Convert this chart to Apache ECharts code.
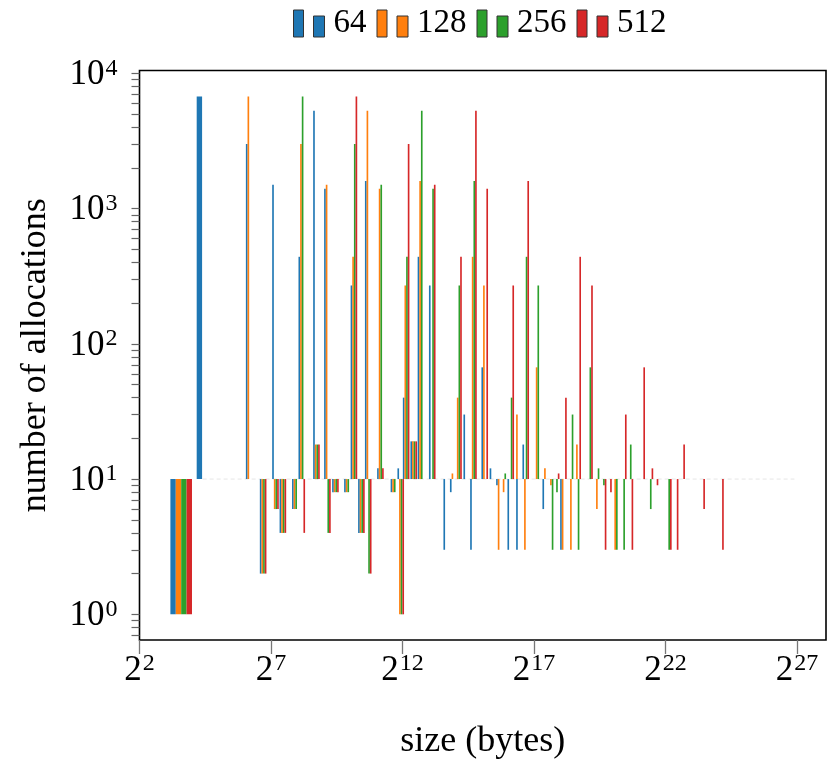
<!DOCTYPE html>
<html>
<head>
<meta charset="utf-8">
<script src="https://cdn.jsdelivr.net/npm/echarts@6.0.0/dist/echarts.min.js"></script>
<style>
  html, body { margin: 0; padding: 0; background: #fff; }
  #chart { width: 830px; height: 768px; }
</style>
</head>
<body>
<div id="chart"></div>
<script>
  // sizes in bytes, counts = number of allocations (bars hang from 10)
  const seriesNames = ['64', '128', '256', '512']
  const seriesColors = ['#1f77b4', '#ff7f0e', '#2ca02c', '#d62728']

  const sizes64 = [12, 24, 72, 104, 144, 175, 243, 288, 424, 566, 699, 959, 1138, 1386, 1659, 2288, 3265, 3907, 4505, 5503, 6654, 8963, 13132, 15587, 22245, 26550, 35740, 44370, 52650, 70950, 89200, 105300, 178400, 284500]
  const counts64 = [1, 6730, 3000, 2, 1500, 4, 6, 440, 5300, 1400, 8, 8, 270, 4, 1600, 12, 8, 12, 40, 19, 440, 270, 3, 8, 30, 3, 67, 12, 9, 3, 3, 18, 6, 3]

  const sizes128 = [12, 72, 104, 144, 175, 243, 288, 424, 566, 699, 959, 1138, 1386, 1659, 2288, 3265, 3907, 4505, 5503, 6654, 15587, 17910, 26550, 35740, 52650, 60050, 85300, 105300, 143400, 178400, 209000, 284500, 353800, 414500, 701700, 1137000]
  const counts128 = [1, 6730, 2, 6, 4, 6, 3000, 18, 1500, 8, 8, 440, 4, 5300, 1400, 8, 1, 270, 19, 1600, 11, 40, 440, 270, 3, 8, 30, 3, 67, 12, 9, 3, 3, 18, 6, 3]

  const sizes256 = [12, 104, 144, 175, 243, 288, 424, 566, 699, 959, 1138, 1386, 1659, 2288, 3265, 3907, 4505, 5503, 6654, 8963, 17910, 26550, 60050, 70950, 105300, 143400, 209000, 234700, 353800, 414500, 565500, 701700, 808900, 1137000, 1378000, 1640000, 2779000, 4516000]
  const counts256 = [1, 2, 6, 4, 6, 6730, 18, 4, 8, 8, 3000, 4, 2, 1500, 8, 1, 440, 19, 5300, 1400, 270, 1600, 11, 40, 440, 270, 3, 8, 30, 3, 67, 12, 9, 3, 3, 18, 6, 3]

  const sizes512 = [12, 104, 144, 175, 288, 424, 566, 699, 1138, 1386, 1659, 2288, 3907, 4505, 5503, 8963, 17910, 26550, 35740, 70950, 105300, 234700, 284500, 414500, 565500, 808900, 932000, 1378000, 1640000, 2238000, 2779000, 3178000, 4516000, 5400000, 6410000, 10860000, 17830000]
  const counts512 = [1, 2, 6, 4, 4, 18, 4, 8, 6730, 4, 2, 12, 1, 3000, 19, 1500, 440, 5300, 1400, 270, 1600, 11, 40, 440, 270, 3, 8, 30, 3, 67, 12, 9, 3, 3, 18, 6, 3]

  const xTickExps = [2, 7, 12, 17, 22, 27]
  const yTickExps = [0, 1, 2, 3, 4]
  const yMinorTicks = [0.7, 0.8, 0.9, 2, 3, 4, 5, 6, 7, 8, 9, 20, 30, 40, 50, 60, 70, 80, 90,
    200, 300, 400, 500, 600, 700, 800, 900, 2000, 3000, 4000, 5000, 6000, 7000, 8000, 9000]

  const allSizes = [sizes64, sizes128, sizes256, sizes512]
  const allCounts = [counts64, counts128, counts256, counts512]

  const FONT = 'Liberation Serif'
  const rich = {
    b: { fontFamily: FONT, fontSize: 35, color: '#000', lineHeight: 38, verticalAlign: 'bottom' },
    s: { fontFamily: FONT, fontSize: 24, color: '#000', lineHeight: 24, padding: [0, 0, 12, 1], verticalAlign: 'bottom' }
  }

  const chart = echarts.init(document.getElementById('chart'))

  // bars of one size sit side by side, one slot per series
  const makeRender = (slot) => (params, api) => {
    const lx = api.value(0)
    const ly = api.value(1)
    const base = api.coord([lx, 1])
    const top = api.coord([lx, ly])
    const w = lx < 5 ? 5.4 : 1.65
    const cx = base[0] + (slot - 1.5) * w
    return {
      type: 'rect',
      shape: { x: cx - w / 2, y: Math.min(base[1], top[1]), width: w, height: Math.abs(top[1] - base[1]) },
      style: { fill: api.visual('color') }
    }
  }

  const barSeries = seriesNames.map((name, i) => ({
    name,
    type: 'custom',
    renderItem: makeRender(i),
    itemStyle: { color: seriesColors[i] },
    encode: { x: 0, y: 1 },
    data: allSizes[i].map((s, k) => [Math.log2(s), Math.log10(allCounts[i][k])]),
    z: 3
  }))

  const option = {
    animation: false,
    grid: { left: 139.5, right: 4, top: 70.5, bottom: 128, show: true, borderColor: '#000', borderWidth: 1.6 },
    legend: {
      left: 288,
      top: 2,
      itemWidth: 31,
      itemHeight: 27,
      itemGap: 10,
      icon: 'path://M0,0H10V27H0Z M20,6H31V27H20Z',
      itemStyle: { borderColor: '#333', borderWidth: 1 },
      textStyle: { fontFamily: FONT, fontSize: 33, color: '#000', padding: [0, 0, 0, 4] },
      data: seriesNames
    },
    xAxis: {
      type: 'value',
      min: 2,
      max: 28.1,
      name: 'size (bytes)',
      nameLocation: 'middle',
      nameGap: 84,
      nameTextStyle: { fontFamily: FONT, fontSize: 36, color: '#000' },
      axisLine: { show: false, onZero: false },
      splitLine: { show: false },
      axisTick: { customValues: xTickExps, length: 14, lineStyle: { color: '#777', width: 1.3 } },
      axisLabel: { customValues: xTickExps, margin: 10, formatter: (v) => `{b|2}{s|${v}}`, rich }
    },
    yAxis: {
      type: 'value',
      min: -0.19,
      max: 4.021,
      name: 'number of allocations',
      nameLocation: 'middle',
      nameGap: 86,
      nameTextStyle: { fontFamily: FONT, fontSize: 36, color: '#000' },
      axisLine: { show: false, onZero: false },
      splitLine: { show: false },
      axisTick: {
        customValues: yTickExps.concat(yMinorTicks.map(Math.log10)),
        length: 8,
        lineStyle: { color: '#666', width: 1.2 }
      },
      axisLabel: { customValues: yTickExps, margin: 22, formatter: (v) => `{b|10}{s|${v}}`, rich }
    },
    series: [
      {
        type: 'line',
        silent: true,
        symbol: 'none',
        data: [[4.4, 1], [26.9, 1]],
        lineStyle: { color: '#e6e6e6', width: 1, type: [4, 3] },
        z: 1
      },
      ...barSeries
    ]
  }

  chart.setOption(option)
</script>
</body>
</html>
